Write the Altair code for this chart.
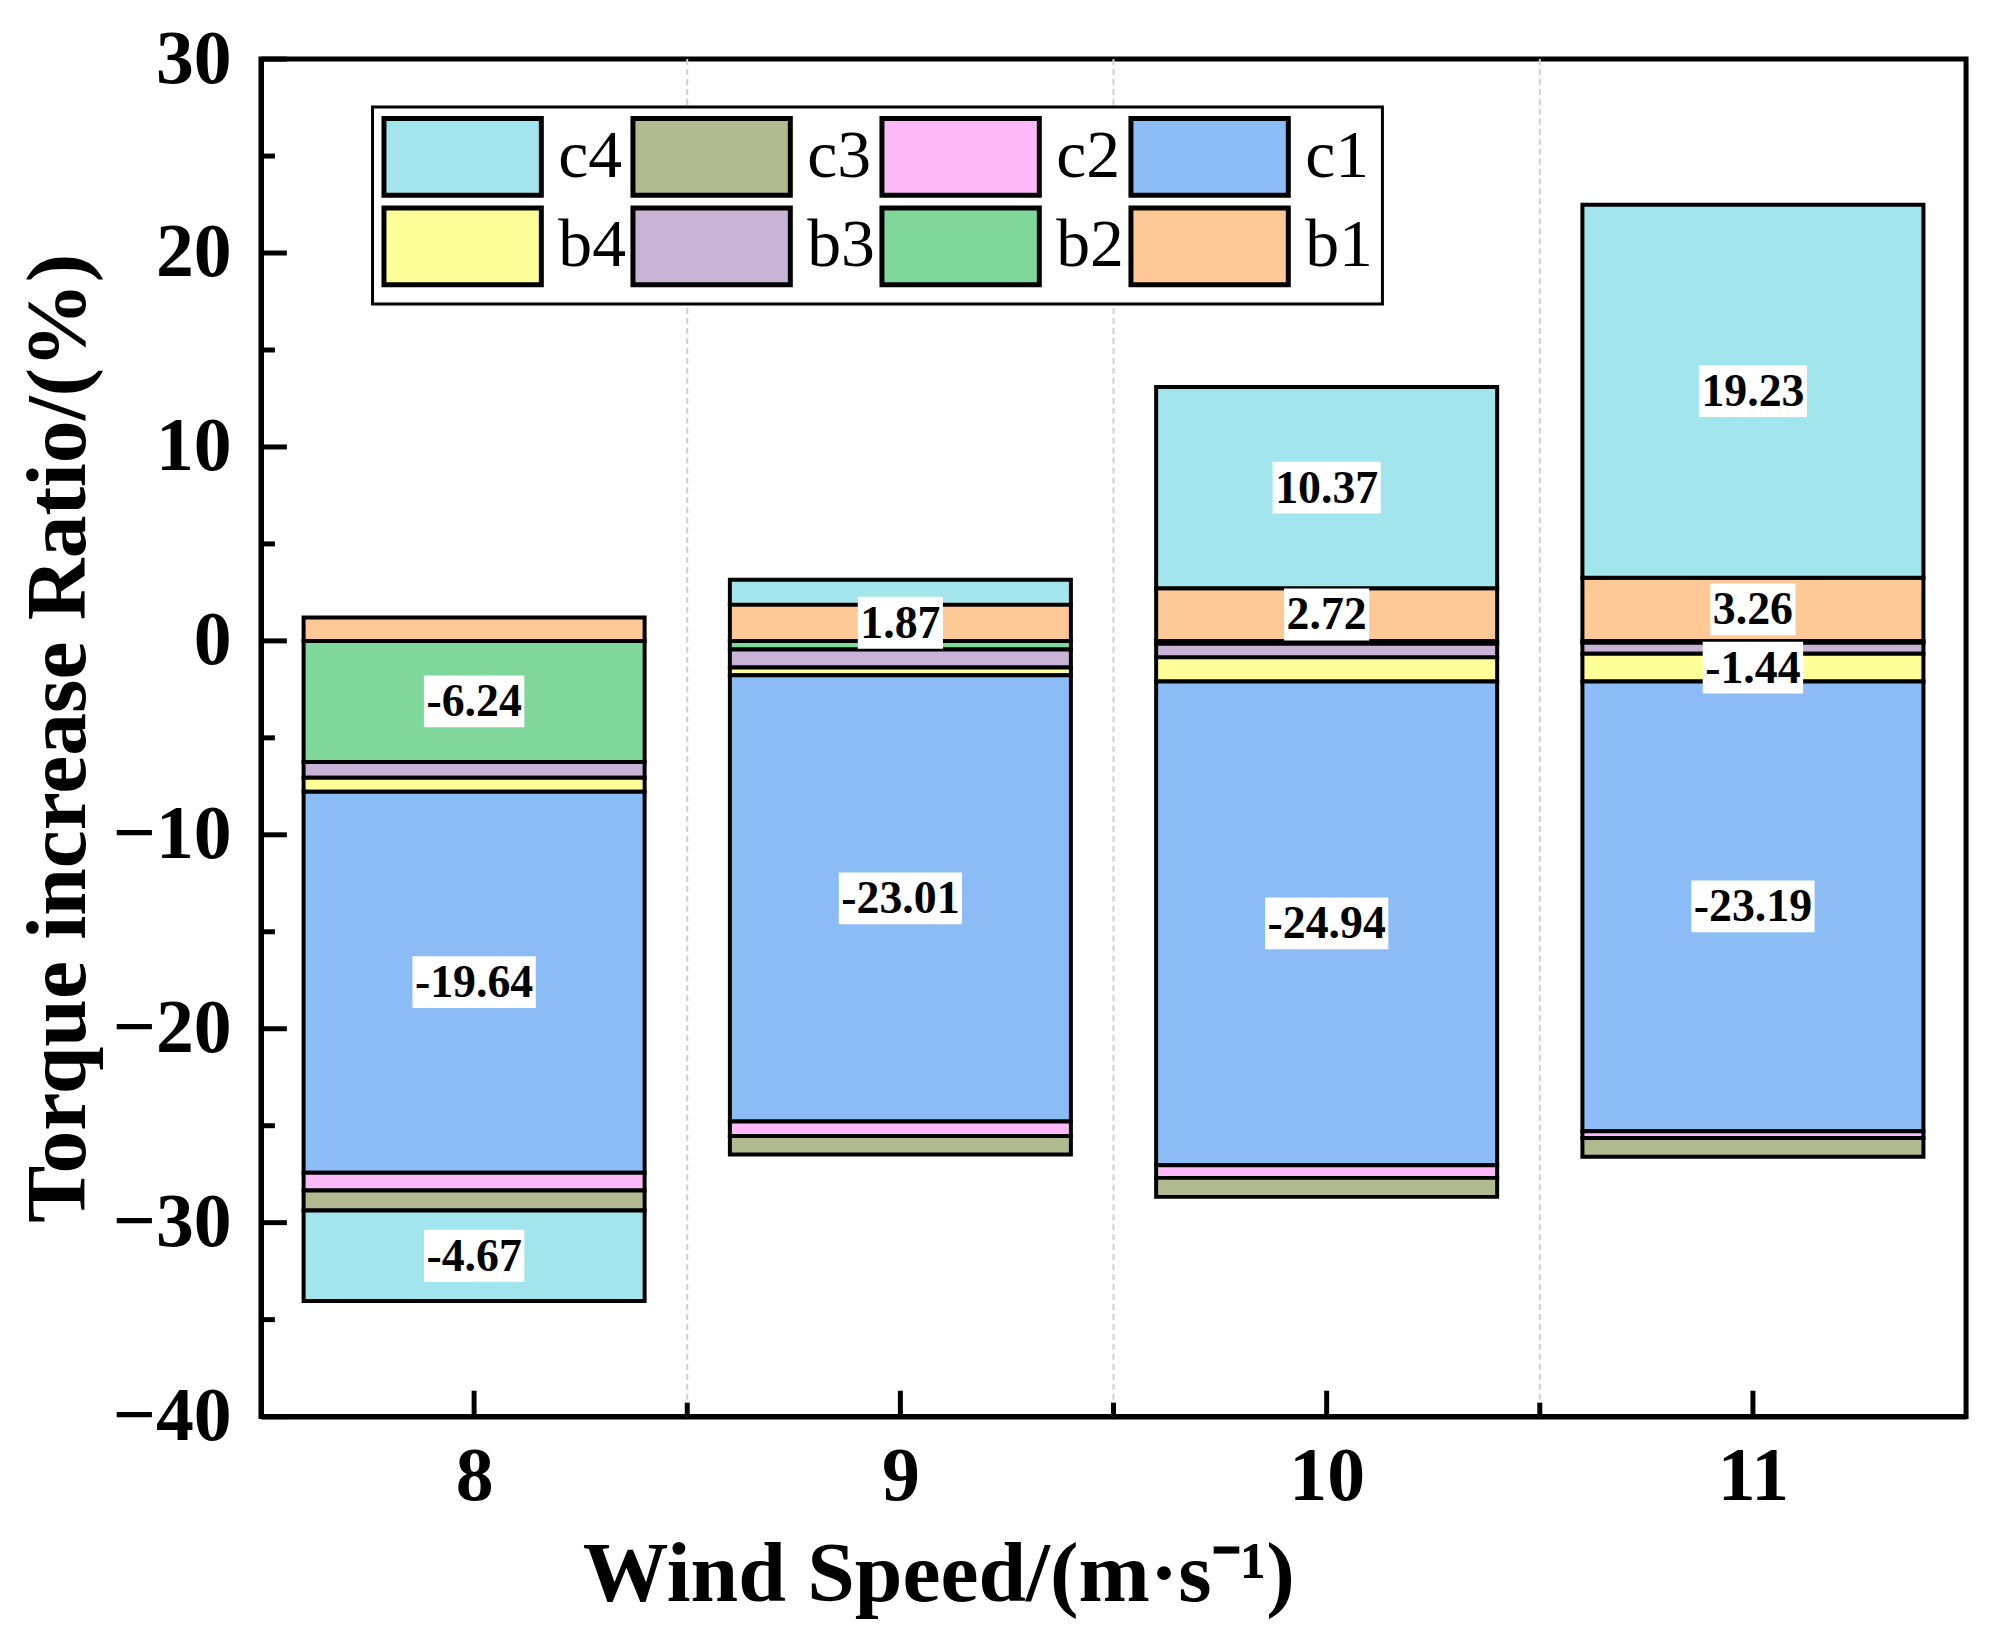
import altair as alt
import pandas as pd

# ---------------- data ----------------
speeds = [8, 9, 10, 11]
series = ["b1", "b2", "b3", "b4", "c1", "c2", "c3", "c4"]

b1 = [1.20, 1.87, 2.72, 3.26]
b2 = [-6.24, -0.45, -0.15, -0.10]
b3 = [-0.82, -0.92, -0.70, -0.56]
b4 = [-0.72, -0.40, -1.25, -1.44]
c1 = [-19.64, -23.01, -24.94, -23.19]
c2 = [-0.92, -0.75, -0.65, -0.35]
c3 = [-1.03, -0.95, -0.98, -0.96]
c4 = [-4.67, 1.28, 10.37, 19.23]

labeled = {
    8: ["b2", "c1", "c4"],
    9: ["b1", "c1"],
    10: ["c4", "b1", "c1"],
    11: ["c4", "b1", "b4", "c1"],
}

legend_order = ["c4", "c3", "c2", "c1", "b4", "b3", "b2", "b1"]
legend_colors = ["#A2E5EC", "#B1B98F", "#FEBAF8", "#8BBCF5",
                 "#FFFF99", "#C8B3D7", "#7FD89A", "#FEC996"]

y_ticks = [-40, -30, -20, -10, 0, 10, 20, 30]
y_minor = [-35, -25, -15, -5, 5, 15, 25]
x_bounds = [8.5, 9.5, 10.5]

values = {"b1": b1, "b2": b2, "b3": b3, "b4": b4,
          "c1": c1, "c2": c2, "c3": c3, "c4": c4}
rows = []
for i, s in enumerate(series):
    for j, sp in enumerate(speeds):
        rows.append({"speed": sp, "series": s, "order": i,
                     "value": values[s][j], "show": s in labeled[sp]})
df = pd.DataFrame(rows)

# ---------------- chart ----------------
W, H = 1712, 1363
FONT = "Liberation Serif"
xscale = alt.Scale(domain=[7.5, 11.5], nice=False, zero=False)
yscale = alt.Scale(domain=[-40, 30], nice=False, zero=False)
XT = "Wind Speed/(m·s⁻¹)"
YT = "Torque increase Ratio/(%)"

X_AXIS = alt.Axis(values=speeds, format="d", ticks=False,
                  domainColor="black", domainWidth=5,
                  labelFont=FONT, labelFontSize=76, labelFontWeight="bold",
                  labelColor="black", labelPadding=23, grid=False,
                  titleFont=FONT, titleFontSize=86, titleFontWeight="bold",
                  titleColor="black", titlePadding=19, titleX=680,
                  titleAlign="center")
Y_AXIS = alt.Axis(values=y_ticks, ticks=False, domainColor="black",
                  domainWidth=5, labelFont=FONT, labelFontSize=76,
                  labelFontWeight="bold", labelColor="black",
                  labelPadding=30, grid=False, titleFont=FONT,
                  titleFontSize=86, titleFontWeight="bold",
                  titleColor="black", titlePadding=10)


def xenc(field):
    return alt.X(field, scale=xscale, axis=X_AXIS, title=XT)


def yenc(field):
    return alt.Y(field, scale=yscale, axis=Y_AXIS, title=YT)


base = alt.Chart(df).transform_stack(
    stack="value", groupby=["speed"], as_=["y0", "y1"],
    sort=[alt.SortField("order", "ascending")], offset="zero"
).transform_calculate(
    xa="datum.speed - 0.4", xb="datum.speed + 0.4",
    ym="(datum.y0 + datum.y1) / 2"
)

legend = alt.Legend(
    orient="none", legendX=112, legendY=48, columns=4, direction="horizontal",
    title=None,
    symbolType="M-2.052,-1H2.052V1H-2.052Z", symbolSize=5929,
    symbolOffset=40.5,
    symbolStrokeColor="black", symbolStrokeWidth=5, symbolOpacity=1,
    labelFont=FONT, labelFontSize=68, labelColor="black", labelOffset=55,
    labelLimit=300, columnPadding=-4, rowPadding=-12, padding=9,
    strokeColor="black", fillColor="white",
)

bars = base.mark_bar(stroke="black", strokeWidth=4, opacity=1).encode(
    x=xenc("xa:Q"),
    x2="xb:Q",
    y=yenc("y0:Q"),
    y2="y1:Q",
    color=alt.Color("series:N",
                    scale=alt.Scale(domain=legend_order, range=legend_colors),
                    legend=legend),
)

lab = base.transform_filter("datum.show").transform_calculate(
    lab="replace(format(datum.value, '.2f'), '\u2212', '-')",
    neg="datum.value < 0 ? 1 : 0",
).transform_calculate(
    nd="length(datum.lab) - 1 - datum.neg",
).transform_calculate(
    w="46 * (0.5 * datum.nd + 0.333 * datum.neg + 0.25) + 5",
).transform_calculate(
    sz="datum.w * datum.w",
    shp="'M-1,-' + (52 / datum.w) + 'H1V' + (52 / datum.w) + 'H-1Z'",
)

boxes = lab.mark_point(filled=True, fill="white", opacity=1, strokeWidth=0).encode(
    x=xenc("speed:Q"),
    y=yenc("ym:Q"),
    shape=alt.Shape("shp:N", scale=None),
    size=alt.Size("sz:Q", scale=None),
)

texts = lab.mark_text(font=FONT, fontWeight="bold", fontSize=46, color="black",
                      baseline="middle", align="center", dy=1).encode(
    x=xenc("speed:Q"),
    y=yenc("ym:Q"),
    text="lab:N",
)

grid = alt.Chart(pd.DataFrame({"g": x_bounds})).mark_rule(
    color="#cfcfcf", strokeWidth=2, strokeDash=[6, 4]).encode(
    x=xenc("g:Q"))

xt_major = alt.Chart(pd.DataFrame({"g": speeds})).mark_rule(
    color="black", strokeWidth=5).encode(
    x=xenc("g:Q"),
    y=alt.value(H), y2=alt.value(H - 26))

xt_minor = alt.Chart(pd.DataFrame({"g": x_bounds})).mark_rule(
    color="black", strokeWidth=5).encode(
    x=xenc("g:Q"),
    y=alt.value(H), y2=alt.value(H - 14))

yt_major = alt.Chart(pd.DataFrame({"t": y_ticks})).mark_rule(
    color="black", strokeWidth=5).encode(
    y=yenc("t:Q"),
    x=alt.value(0), x2=alt.value(26))

yt_minor = alt.Chart(pd.DataFrame({"t": y_minor})).mark_rule(
    color="black", strokeWidth=5).encode(
    y=yenc("t:Q"),
    x=alt.value(0), x2=alt.value(14))

chart = alt.layer(grid, bars, boxes, texts, yt_major, yt_minor,
                  xt_major, xt_minor).properties(
    width=W, height=H,
    autosize=alt.AutoSizeParams(type="none"),
    padding={"left": 254, "top": 48, "right": 15, "bottom": 220},
    background="white",
).configure_view(stroke="black", strokeWidth=5).configure_legend(strokeWidth=3)

chart.save("out.html", embed_options={"renderer": "svg", "actions": False})
